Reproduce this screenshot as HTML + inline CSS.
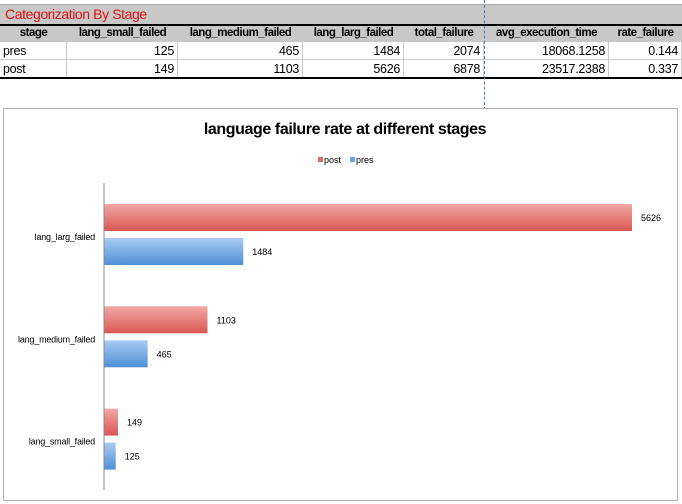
<!DOCTYPE html>
<html><head><meta charset="utf-8"><style>
body{margin:0;width:682px;height:504px;overflow:hidden;background:#fff;font-family:"Liberation Sans",sans-serif;position:relative}
.c{position:absolute;font-size:12.5px;line-height:18px;white-space:nowrap;box-sizing:border-box;padding:0 3px;letter-spacing:-0.3px}
</style></head><body>
<div style="position:absolute;left:0;top:4px;width:682px;height:20px;background:#c8c8c8;border-top:1px solid #aaa"></div>
<div class="c" style="left:2px;top:5px;color:#e01010;font-size:14px;letter-spacing:-0.4px">Categorization By Stage</div>
<div style="position:absolute;left:0;top:24px;width:682px;height:18px;background:#c8c8c8;border-top:2px solid #000;box-sizing:border-box"></div>
<div id="tbl"></div>
<div style="position:absolute;left:0;top:77px;width:682px;height:2px;background:#000"></div>
<div style="position:absolute;left:484px;top:0;height:110px;border-left:1px dashed #4a7bc0"></div>
<div style="position:absolute;left:3px;top:108px;width:675px;height:393px;border:1px solid #b0b0b0;background:#fff;box-sizing:border-box"></div>
<div style="position:absolute;left:0;width:682px;top:121px;text-align:center;font-weight:bold;font-size:16px;letter-spacing:-0.4px;padding-left:4px">language failure rate at different stages</div>
<svg id="ch" width="682" height="504" style="position:absolute;left:0;top:0">
<defs>
<linearGradient id="gr" x1="0" y1="0" x2="0" y2="1"><stop offset="0" stop-color="#f3a8a6"/><stop offset="1" stop-color="#d85752"/></linearGradient>
<linearGradient id="gb" x1="0" y1="0" x2="0" y2="1"><stop offset="0" stop-color="#a9ccf4"/><stop offset="1" stop-color="#4f8fd6"/></linearGradient>
</defs>
</svg>
<script>
const cols=["stage","lang_small_failed","lang_medium_failed","lang_larg_failed","total_failure","avg_execution_time","rate_failure"];
const colX=[0,67,178,303,404,484,609,682];
const rows=[["pres","125","465","1484","2074","18068.1258","0.144"],["post","149","1103","5626","6878","23517.2388","0.337"]];
const tbl=document.getElementById('tbl');
cols.forEach((h,i)=>{const d=document.createElement('div');d.className='c';d.textContent=h;
d.style.cssText=`left:${colX[i]}px;top:24px;width:${colX[i+1]-colX[i]}px;font-weight:bold;text-align:center;font-size:11.5px;letter-spacing:-0.5px;padding:0`;

tbl.appendChild(d);});
rows.forEach((r,ri)=>r.forEach((v,i)=>{const d=document.createElement('div');d.className='c';d.textContent=v;
d.style.cssText=`left:${colX[i]}px;top:${42+ri*18}px;width:${colX[i+1]-colX[i]}px;height:18px;text-align:${i?'right':'left'};border-right:1px solid #ccc;border-bottom:1px solid #ccc`;

tbl.appendChild(d);}));

const categories=["lang_larg_failed","lang_medium_failed","lang_small_failed"];
const postVals=[5626,1103,149];
const presVals=[1484,465,125];
const svg=document.getElementById('ch'),NS='http://www.w3.org/2000/svg';
const x0=104,xMax=5626,xW=528,yTop=183,band=102.3;
const xs=v=>x0+v/xMax*xW;
function el(t,a){const e=document.createElementNS(NS,t);for(const k in a)e.setAttribute(k,a[k]);svg.appendChild(e);return e;}
categories.forEach((c,i)=>{
  const b=yTop+i*band;
  const t=el('text',{x:95,y:b+57,'text-anchor':'end','font-size':9,'letter-spacing':'-0.2','font-family':'Liberation Sans, sans-serif'});t.textContent=c;
  
  
  [[postVals[i],'url(#gr)',21,'bar-post'],[presVals[i],'url(#gb)',55,'bar-pres']].forEach(([v,f,o,n])=>{
    const r=el('rect',{x:x0,y:b+o,width:xs(v)-x0,height:27,fill:f});
    
    
    const l=el('text',{x:xs(v)+9,y:b+o+17,'font-size':9,'font-family':'Liberation Sans, sans-serif'});l.textContent=v;
    
    
  });
});
const ax=el('line',{x1:x0,y1:yTop,x2:x0,y2:490,stroke:'#888','stroke-width':1});


[['post','#e06a66',318],['pres','#6aa3e6',350]].forEach(([n,c,x])=>{
  const s=el('rect',{x:x,y:157,width:5,height:5,fill:c});
  
  
  const t=el('text',{x:x+6,y:163,'font-size':9,'font-family':'Liberation Sans, sans-serif'});t.textContent=n;
  
  
});
</script>
</body></html>
